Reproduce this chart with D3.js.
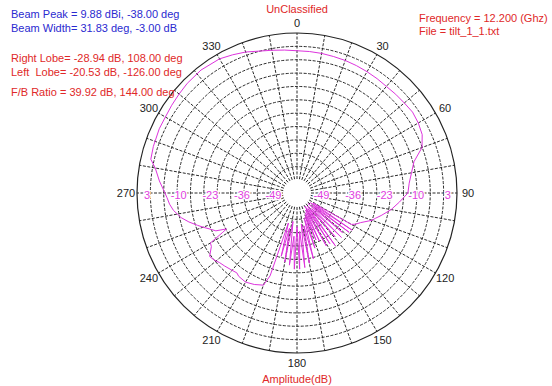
<!DOCTYPE html>
<html>
<head>
<meta charset="utf-8">
<script src="https://cdnjs.cloudflare.com/ajax/libs/d3/7.8.5/d3.min.js"></script>
<style>
  body { margin: 0; background: #fff; }
  svg { display: block; font-family: 'Liberation Sans', Arial, sans-serif; }
</style>
</head>
<body>
<div id="chart-area"></div>
<script>
// pattern cut, angle in deg (clockwise from 0 at top), gain in dBi
const angles = [
  -180, -178, -176, -174, -172, -170, -168, -166, -164, -162, -160, -155, -150, -145,
  -143, -140, -135, -132, -129, -126, -122, -120, -118, -117, -115, -113, -110, -108,
  -105, -102, -98, -95, -92, -90, -85, -80, -77, -72, -65, -60, -55, -50, -45, -38,
  -30, -25, -20, -15, -10, -5, 0, 5, 10, 15, 20, 25, 30, 35, 40, 45, 50, 55, 60, 65,
  70, 75, 80, 85, 90, 95, 100, 105, 108, 110, 115, 118, 120, 122, 124, 126, 127, 129,
  131, 133, 135, 137, 139, 141, 144, 145, 147, 149, 151, 153, 155, 157, 158, 160, 162,
  164, 166, 168, 170, 172, 174, 176, 178
];
const gains = [
  -44, -26.5, -40, -28, -46, -29, -43, -31, -45, -22, -17.5, -16.3, -15.5, -16,
  -16.7, -16.3, -15.5, -15, -14, -13.4, -16.3, -16.7, -23, -25.3, -21, -19.5, -16.7, -14.8,
  -11.8, -9.1, -6.5, -5.2, -4.3, -3.5, -1.0, 1.4, 3.9, 4.3, 4.7, 4.7, 5.1, 5.5, 6.0, 6.35,
  5.9, 4.9, 3.9, 2.6, 1.8, 1.2, 0.7, 0.6, 0.5, 0.3, 0.2, 0.0, -0.2, -0.4, -0.6, -0.4, -0.2, 0.2, -0.2, -1.0,
  -3.1, -8.0, -10.0, -11.5, -12.2, -15.5, -18.5, -22, -24, -25, -29, -30.5, -32, -50, -30.5, -51, -31, -49,
  -33, -51.5, -32, -49, -34, -51, -31, -50, -33, -51.5, -33, -50, -36, -49, -37, -48, -34,
  -47, -30, -44, -28.5, -45, -27, -42, -26.5
];

// grid and labels
const angleTicks = [0, 30, 60, 90, 120, 150, 180, 210, 240, 270, 300, 330];
const ampTicks = [3, -10, -23, -36, -49];
const infoBlue = ['Beam Peak = 9.88 dBi, -38.00 deg', 'Beam Width= 31.83 deg, -3.00 dB'];
const infoRed = ['Right Lobe= -28.94 dB, 108.00 deg', 'Left  Lobe= -20.53 dB, -126.00 deg', 'F/B Ratio = 39.92 dB, 144.00 deg'];
const infoRight = ['Frequency = 12.200 (Ghz)', 'File = tilt_1_1.txt'];

const width = 552;
const height = 386;
const center = { x: 297, y: 193 };
const outerR = 160;
const holeR = 13;

const rad = a => a * Math.PI / 180;

// radial scale in dB, hole at the middle
const r = d3.scaleLinear()
  .domain([-52.5, 8])
  .range([holeR, outerR]);

const svg = d3.select('#chart-area')
  .append('svg')
  .attr('width', width)
  .attr('height', height);

const g = svg.append('g')
  .attr('transform', 'translate(' + center.x + ', ' + center.y + ')');

const gridColor = '#2a2a2a';

// rings
const ringVals = d3.range(1, 11).map(i => -52.5 + i * 5.5);
g.selectAll('.ring')
  .data(ringVals)
  .enter()
  .append('circle')
  .attr('class', 'ring')
  .attr('r', d => r(d))
  .attr('fill', 'none')
  .attr('stroke', gridColor)
  .attr('stroke-width', 1)
  .attr('stroke-dasharray', '3,1.5');

// spokes every 10 deg
g.selectAll('.spoke')
  .data(d3.range(0, 360, 10))
  .enter()
  .append('line')
  .attr('class', 'spoke')
  .attr('x1', d => d3.pointRadial(rad(d), holeR + 1)[0])
  .attr('y1', d => d3.pointRadial(rad(d), holeR + 1)[1])
  .attr('x2', d => d3.pointRadial(rad(d), outerR)[0])
  .attr('y2', d => d3.pointRadial(rad(d), outerR)[1])
  .attr('stroke', gridColor)
  .attr('stroke-width', 1)
  .attr('stroke-dasharray', '3,1.5');

// outer circle
g.append('circle')
  .attr('r', outerR)
  .attr('fill', 'none')
  .attr('stroke', '#222')
  .attr('stroke-width', 1.2);

// angle labels
g.selectAll('.ang')
  .data(angleTicks)
  .enter()
  .append('text')
  .attr('class', 'ang')
  .attr('x', d => d3.pointRadial(rad(d), outerR + 11)[0])
  .attr('y', d => d3.pointRadial(rad(d), outerR + 10)[1])
  .attr('dy', '0.35em')
  .attr('text-anchor', 'middle')
  .attr('font-size', '11px')
  .attr('fill', '#222')
  .text(d => d);

// pattern
const line = d3.lineRadial()
  .angle(d => rad(d[0]))
  .radius(d => r(d[1]))
  .curve(d3.curveLinearClosed);

g.append('path')
  .datum(angles.map((a, i) => [a, gains[i]]))
  .attr('d', line)
  .attr('fill', 'none')
  .attr('stroke', '#dd33dd')
  .attr('stroke-width', 1);

// amplitude labels along the 270-90 axis
const ampLabels = ampTicks.map(v => ({ v: v, side: -1 }))
  .concat(ampTicks.map(v => ({ v: v, side: 1 })));
g.selectAll('.amp')
  .data(ampLabels)
  .enter()
  .append('text')
  .attr('class', 'amp')
  .attr('x', d => d.side * r(d.v) + (d.side > 0 ? 3 : -2))
  .attr('y', 2)
  .attr('dy', '0.35em')
  .attr('text-anchor', 'middle')
  .attr('font-size', '11px')
  .attr('fill', '#e040e0')
  .attr('stroke', '#fff')
  .attr('stroke-width', 2.5)
  .attr('paint-order', 'stroke')
  .text(d => d.v);

// titles
svg.append('text')
  .attr('x', center.x)
  .attr('y', 13)
  .attr('text-anchor', 'middle')
  .attr('font-size', '11px')
  .attr('fill', '#e02828')
  .text('UnClassified');

svg.append('text')
  .attr('x', center.x)
  .attr('y', 383)
  .attr('text-anchor', 'middle')
  .attr('font-size', '11px')
  .attr('fill', '#e02828')
  .text('Amplitude(dB)');

// info block, top left
svg.selectAll('.blue')
  .data(infoBlue)
  .enter()
  .append('text')
  .attr('class', 'blue')
  .attr('x', 11)
  .attr('y', (d, i) => 18 + i * 14)
  .attr('font-size', '11px')
  .attr('fill', '#2a2ad0')
  .attr('xml:space', 'preserve')
  .text(d => d);

svg.selectAll('.red')
  .data(infoRed)
  .enter()
  .append('text')
  .attr('class', 'red')
  .attr('x', 11)
  .attr('y', (d, i) => [62, 76, 96][i])
  .attr('font-size', '11px')
  .attr('fill', '#e02828')
  .attr('xml:space', 'preserve')
  .text(d => d);

svg.selectAll('.right')
  .data(infoRight)
  .enter()
  .append('text')
  .attr('class', 'right')
  .attr('x', 419)
  .attr('y', (d, i) => 22 + i * 13)
  .attr('font-size', '11px')
  .attr('fill', '#e02828')
  .attr('xml:space', 'preserve')
  .text(d => d);
</script>
</body>
</html>
